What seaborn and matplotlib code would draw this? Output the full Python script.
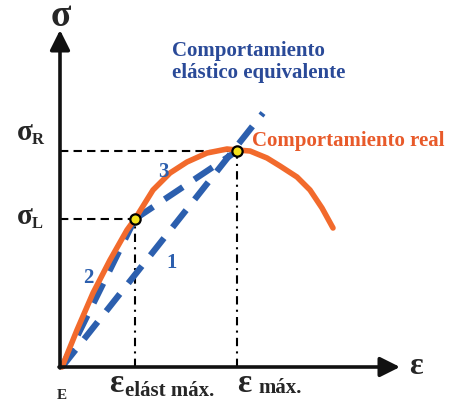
import matplotlib
matplotlib.use("Agg")
import matplotlib.pyplot as plt
import seaborn as sns
import pandas as pd

# real stress-strain curve (arbitrary units)
strain = [0, 0.15, 0.31, 0.48, 0.65, 0.73, 0.91, 1.08, 1.25, 1.45, 1.65, 1.75,
          1.88, 2.05, 2.18, 2.35, 2.48, 2.60, 2.71]
stress = [0, 0.37, 0.74, 1.07, 1.37, 1.48, 1.77, 1.94, 2.05, 2.14, 2.18, 2.17,
          2.16, 2.09, 2.01, 1.90, 1.77, 1.59, 1.39]

eps_el = 0.73
eps_max = 1.75
sig_L = 1.48
sig_R = 2.16
line1_end = [2.01, 2.54]

ORANGE = "#f26a2c"
BLUE = "#2c5fae"
TXT_BLUE = "#2a4a98"
TXT_ORANGE = "#e85a2a"

sns.set_theme(style="white")
plt.rcParams["font.family"] = ["Liberation Serif", "DejaVu Serif"]
plt.rcParams["font.weight"] = "bold"

fig = plt.figure(figsize=(4.51, 4.03), dpi=100)
ax = fig.add_axes([0, 0, 1, 1])
ax.set_xlim(-0.62, 3.89)
ax.set_ylim(-0.36, 3.67)
ax.axis("off")

# guide lines
guide = dict(color="black", lw=1.5, legend=False)
sns.lineplot(x=[-0.02, eps_max], y=[sig_R, sig_R], ax=ax, linestyle=(0, (4, 2.5)), **guide)
sns.lineplot(x=[-0.02, eps_el], y=[sig_L, sig_L], ax=ax, linestyle=(0, (4, 2.5)), **guide)
sns.lineplot(x=[eps_el, eps_el], y=[0, sig_L], ax=ax, linestyle=(0, (4, 2.5, 1, 2.5)), orient="y", **guide)
sns.lineplot(x=[eps_max, eps_max], y=[0, sig_R], ax=ax, linestyle=(0, (4, 2.5, 1, 2.5)), orient="y", **guide)

# equivalent elastic lines
dash = dict(color=BLUE, lw=4.5, linestyle=(0, (3.5, 2.2)), legend=False)
sns.lineplot(x=[0, line1_end[0]], y=[0, line1_end[1]], ax=ax, **dash)
sns.lineplot(x=[0, eps_el], y=[0, sig_L], ax=ax, **dash)
sns.lineplot(x=[eps_el, eps_max], y=[sig_L, sig_R], ax=ax, **dash)

# real behaviour
df = pd.DataFrame({"strain": strain, "stress": stress})
sns.lineplot(data=df, x="strain", y="stress", ax=ax, color=ORANGE, lw=4,
             sort=False, solid_capstyle="round", solid_joinstyle="round")

sns.scatterplot(x=[eps_el, eps_max], y=[sig_L, sig_R], ax=ax, s=55,
                color="#f3e21c", edgecolor="black", linewidth=1.6, zorder=5)

# axes arrows
arrow = dict(arrowstyle="-|>,head_length=0.6,head_width=0.3", lw=2.6,
             color="#111111", mutation_scale=20, shrinkA=0, shrinkB=0)
ax.annotate("", xy=(3.38, 0), xytext=(-0.03, 0), arrowprops=arrow)
ax.annotate("", xy=(-0.02, 3.37), xytext=(-0.02, -0.01), arrowprops=arrow)

# labels
ax.text(-0.01, 3.50, "σ", fontsize=27, ha="center", va="center")
ax.text(3.54, 0.01, "ε", fontsize=23, ha="center", va="center")
ax.text(-0.29, 2.34, "σ", fontsize=21, ha="right", va="center")
ax.text(-0.30, 2.27, "R", fontsize=12, ha="left", va="center")
ax.text(-0.29, 1.50, "σ", fontsize=21, ha="right", va="center")
ax.text(-0.30, 1.43, "L", fontsize=12, ha="left", va="center")
ax.text(0.00, -0.35, "E", fontsize=11, ha="center", va="bottom")

ax.text(0.47, -0.17, "ε", fontsize=24, ha="left", va="center")
ax.text(0.63, -0.235, "elást máx.", fontsize=15, ha="left", va="center")
ax.text(1.75, -0.17, "ε", fontsize=24, ha="left", va="center")
ax.text(1.96, -0.21, "máx.", fontsize=15, ha="left", va="center")

ax.text(1.10, 3.05, "Comportamiento\nelástico equivalente", fontsize=15,
        color=TXT_BLUE, ha="left", va="center", linespacing=1.15)
ax.text(1.90, 2.26, "Comportamiento real", fontsize=15, color=TXT_ORANGE,
        ha="left", va="center")

ax.text(1.01, 1.95, "3", fontsize=15, color=BLUE, ha="center", va="center")
ax.text(0.26, 0.89, "2", fontsize=15, color=BLUE, ha="center", va="center")
ax.text(1.10, 1.04, "1", fontsize=15, color=BLUE, ha="center", va="center")

fig.savefig("out.png", dpi=100)
